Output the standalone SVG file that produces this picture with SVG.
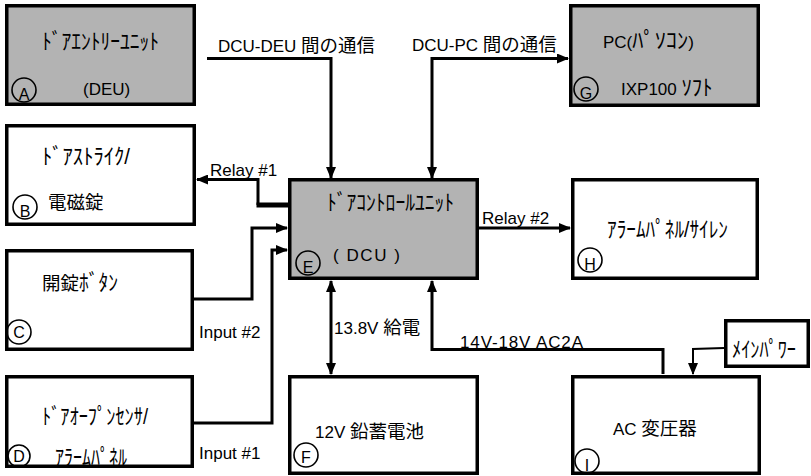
<svg xmlns="http://www.w3.org/2000/svg" width="811" height="476" viewBox="0 0 811 476">
<style>
.box{stroke:#000;stroke-width:3.5}
.gray{fill:#b3b3b3}
.white{fill:#fff}
.ln{fill:none;stroke:#000;stroke-width:3}
.t{font-family:"Liberation Sans","Noto Sans CJK JP",sans-serif;font-size:17px;fill:#000}
.k{font-family:"Liberation Sans","Noto Sans CJK JP",sans-serif;font-size:22px;fill:#000}
.kk{font-size:22px}
.j{font-size:18.5px}
.c{fill:none;stroke:#000;stroke-width:1.6}
.cl{font-family:"Liberation Sans",sans-serif;font-size:16px;fill:#000;text-anchor:middle}
</style>
<defs>
<marker id="ah" viewBox="0 0 12 10" refX="11" refY="5" markerWidth="12" markerHeight="10" markerUnits="userSpaceOnUse" orient="auto-start-reverse">
<path d="M0,0 L12,5 L0,10 z" fill="#000"/>
</marker>
</defs>
<rect width="811" height="476" fill="#fff"/>

<g id="connectors">
<path class="ln" d="M207,58.5 H331 V178" marker-end="url(#ah)"/>
<path class="ln" d="M432,178 V58.5 H568" marker-start="url(#ah)" marker-end="url(#ah)"/>
<path class="ln" d="M258,205 V179.5 H197" marker-end="url(#ah)"/>
<path fill="none" stroke="#000" stroke-width="5" d="M256.5,205 H289"/>
<path class="ln" d="M479,228 H570" marker-end="url(#ah)"/>
<path class="ln" d="M194,299 H252 V228 H287" marker-end="url(#ah)"/>
<path class="ln" d="M194,423 H272 V250 H287" marker-end="url(#ah)"/>
<path class="ln" d="M331,281 V374" marker-start="url(#ah)" marker-end="url(#ah)"/>
<path class="ln" d="M663,374 V349.5 H432 V281" marker-end="url(#ah)"/>
<path fill="none" stroke="#000" stroke-width="2" d="M724,348 L693,349 V374" marker-end="url(#ah)"/>
</g>

<g id="nodeA">
<rect class="box gray" x="6.75" y="5.75" width="187.5" height="98.5"/>
<text class="k" x="42" y="49" textLength="117" lengthAdjust="spacingAndGlyphs">ﾄﾞｱｴﾝﾄﾘｰﾕﾆｯﾄ</text>
<text class="t" x="83" y="95">(DEU)</text>
<circle class="c" cx="24" cy="90" r="12"/>
<text class="cl" x="24" y="100">A</text>
</g>

<g id="nodeG">
<rect class="box gray" x="570.75" y="5.75" width="187.5" height="99.5"/>
<text class="t" x="603" y="48">PC(<tspan class="kk" textLength="56" lengthAdjust="spacingAndGlyphs">ﾊﾟｿｺﾝ</tspan>)</text>
<text class="t" x="621" y="95">IXP100 <tspan class="kk" textLength="31" lengthAdjust="spacingAndGlyphs">ｿﾌﾄ</tspan></text>
<circle class="c" cx="586" cy="89" r="12"/>
<text class="cl" x="586" y="99">G</text>
</g>

<g id="nodeB">
<rect class="box white" x="6.75" y="125.75" width="187.5" height="98.5"/>
<text class="k" x="42" y="164" textLength="88" lengthAdjust="spacingAndGlyphs">ﾄﾞｱｽﾄﾗｲｸ/</text>
<text class="t j" x="48" y="209">電磁錠</text>
<circle class="c" cx="25" cy="207" r="12"/>
<text class="cl" x="25" y="217">B</text>
</g>

<g id="nodeE">
<rect class="box gray" x="289.75" y="179.75" width="187.5" height="98.5"/>
<text class="k" x="327" y="210" textLength="127" lengthAdjust="spacingAndGlyphs">ﾄﾞｱｺﾝﾄﾛｰﾙﾕﾆｯﾄ</text>
<text class="t" x="333" y="261" textLength="67">( DCU )</text>
<circle class="c" cx="308" cy="263" r="12"/>
<text class="cl" x="308" y="273">E</text>
</g>

<g id="nodeH">
<rect class="box white" x="572.75" y="179.75" width="184.5" height="98.5"/>
<text class="k" x="607" y="237" textLength="121" lengthAdjust="spacingAndGlyphs">ｱﾗｰﾑﾊﾟﾈﾙ/ｻｲﾚﾝ</text>
<circle class="c" cx="590" cy="260" r="12"/>
<text class="cl" x="590" y="270">H</text>
</g>

<g id="nodeC">
<rect class="box white" x="6.75" y="250.75" width="185.5" height="98.5"/>
<text class="t" x="42" y="290"><tspan class="j">開錠</tspan><tspan class="kk" textLength="39" lengthAdjust="spacingAndGlyphs">ﾎﾞﾀﾝ</tspan></text>
<circle class="c" cx="19" cy="332" r="12"/>
<text class="cl" x="19" y="338">C</text>
</g>

<g id="nodeD">
<rect class="box white" x="6.75" y="376.75" width="185.5" height="89.5"/>
<text class="k" x="42" y="424" textLength="106" lengthAdjust="spacingAndGlyphs">ﾄﾞｱｵｰﾌﾟﾝｾﾝｻ/</text>
<text class="k" x="55" y="465" textLength="72" lengthAdjust="spacingAndGlyphs">ｱﾗｰﾑﾊﾟﾈﾙ</text>
<circle class="c" cx="19" cy="456" r="11"/>
<text class="cl" x="19" y="462">D</text>
</g>

<g id="nodeF">
<rect class="box white" x="289.75" y="376.75" width="187.5" height="96.5"/>
<text class="t" x="315" y="438">12V <tspan class="j">鉛蓄電池</tspan></text>
<circle class="c" cx="306" cy="455" r="12"/>
<text class="cl" x="306" y="463">F</text>
</g>

<g id="nodeI">
<rect class="box white" x="572.75" y="376.75" width="186.5" height="96.5"/>
<text class="t" x="613" y="435">AC <tspan class="j">変圧器</tspan></text>
<circle class="c" cx="587" cy="461" r="12"/>
<text class="cl" x="587" y="471">I</text>
</g>

<g id="nodeMain">
<rect class="box white" x="725.75" y="320.75" width="82.5" height="45.5"/>
<text class="k" x="732" y="357" textLength="64" lengthAdjust="spacingAndGlyphs">ﾒｲﾝﾊﾟﾜｰ</text>
</g>

<g id="labels">
<text class="t" x="218" y="52">DCU-DEU <tspan class="j">間の通信</tspan></text>
<text class="t" x="412" y="51">DCU-PC <tspan class="j">間の通信</tspan></text>
<text class="t" x="210" y="176">Relay #1</text>
<text class="t" x="482" y="224">Relay #2</text>
<text class="t" x="199" y="338">Input #2</text>
<text class="t" x="199" y="459">Input #1</text>
<text class="t" x="334" y="334">13.8V <tspan class="j">給電</tspan></text>
<text class="t" x="460" y="348" textLength="123">14V-18V AC2A</text>
</g>
</svg>
